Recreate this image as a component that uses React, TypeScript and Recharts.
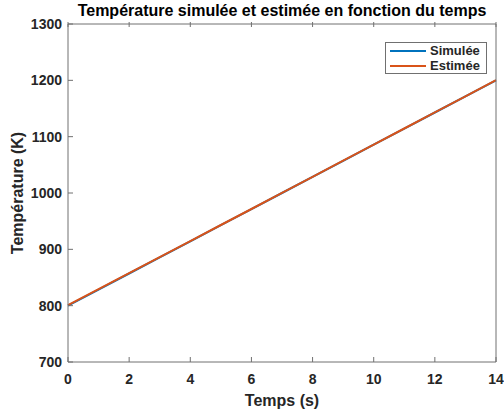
import { LineChart, Line, XAxis, YAxis } from 'recharts';

const temps = [0, 1, 2, 3, 4, 5, 6, 7, 8, 9, 10, 11, 12, 13, 14];
const simulee = [800, 828.6, 857.1, 885.7, 914.3, 942.9, 971.4, 1000, 1028.6, 1057.1, 1085.7, 1114.3, 1142.9, 1171.4, 1200];
const estimee = [801, 829.2, 857.6, 886.1, 914.5, 943.2, 971.6, 1000.3, 1028.8, 1057.4, 1085.9, 1114.5, 1143.1, 1171.6, 1200.2];
const xTicks = [0, 2, 4, 6, 8, 10, 12, 14];
const yTicks = [700, 800, 900, 1000, 1100, 1200, 1300];
const seriesNames = ['Simulée', 'Estimée'];
const seriesColors = ['#0072BD', '#D95319'];

const data = temps.map((t, i) => ({ t, simulee: simulee[i], estimee: estimee[i] }));

const AXIS = '#707070';
const TEXT = '#262626';
const FONT = '"Liberation Sans", Arial, sans-serif';

const BottomTick = ({ x, y, payload }: any) => (
  <g>
    <line x1={x} x2={x} y1={y - 10} y2={y - 15} stroke={AXIS} />
    <text x={x} y={y + 12} textAnchor="middle" fill={TEXT} fontSize={14} fontWeight="bold" fontFamily={FONT}>
      {payload.value}
    </text>
  </g>
);

const LeftTick = ({ x, y, payload }: any) => (
  <g>
    <line x1={x + 6} x2={x + 11} y1={y} y2={y} stroke={AXIS} />
    <text x={x} y={y + 5} textAnchor="end" fill={TEXT} fontSize={14} fontWeight="bold" fontFamily={FONT}>
      {payload.value}
    </text>
  </g>
);

const TopTick = ({ x, y }: any) => <line x1={x} x2={x} y1={y} y2={y + 5} stroke={AXIS} />;
const RightTick = ({ x, y }: any) => <line x1={x} x2={x - 5} y1={y} y2={y} stroke={AXIS} />;

const LegendBox = () => (
  <div
    style={{
      position: 'absolute',
      left: 385,
      top: 42,
      zIndex: 2,
      border: `1px solid ${AXIS}`,
      background: '#fff',
      padding: '0px 4px',
      fontFamily: FONT,
      fontWeight: 'bold',
      fontSize: 13,
      color: TEXT,
      lineHeight: '16px',
      width: 92,
      height: 30,
    }}
  >
    {seriesNames.map((name, i) => (
      <div key={name} style={{ display: 'flex', alignItems: 'center', height: 15 }}>
        <span style={{ display: 'inline-block', width: 36, height: 2, background: seriesColors[i], marginRight: 4 }} />
        {name}
      </div>
    ))}
  </div>
);

export default function App() {
  return (
    <div style={{ position: 'absolute', left: 0, top: 0, width: 504, height: 412, background: '#fff' }}>
      <div
        style={{
          position: 'absolute',
          left: 282,
          top: 2,
          transform: 'translateX(-50%)',
          whiteSpace: 'nowrap',
          fontFamily: FONT,
          fontWeight: 'bold',
          fontSize: 16,
          color: '#000',
          zIndex: 2,
        }}
      >
        Température simulée et estimée en fonction du temps
      </div>
      <LegendBox />
      <LineChart width={504} height={412} data={data} margin={{ top: 0, right: 0, bottom: 0, left: 0 }}>
        <XAxis
          dataKey="t"
          type="number"
          domain={[0, 14]}
          ticks={xTicks}
          height={50}
          tickSize={0}
          tickMargin={10}
          tickLine={false}
          stroke={AXIS}
          tick={<BottomTick />}
          label={{ value: 'Temps (s)', position: 'insideBottom', offset: 6, fill: TEXT, fontSize: 16, fontWeight: 'bold', fontFamily: FONT }}
        />
        <XAxis
          xAxisId="top"
          dataKey="t"
          type="number"
          orientation="top"
          domain={[0, 14]}
          ticks={xTicks}
          height={24}
          tickSize={0}
          tickLine={false}
          stroke={AXIS}
          tick={<TopTick />}
        />
        <YAxis
          type="number"
          domain={[700, 1300]}
          ticks={yTicks}
          width={68}
          tickSize={0}
          tickMargin={6}
          tickLine={false}
          stroke={AXIS}
          tick={<LeftTick />}
          label={{ value: 'Température (K)', angle: -90, position: 'insideLeft', offset: 17, fill: TEXT, fontSize: 16, fontWeight: 'bold', fontFamily: FONT, style: { textAnchor: 'middle' } }}
        />
        <YAxis
          yAxisId="right"
          orientation="right"
          type="number"
          domain={[700, 1300]}
          ticks={yTicks}
          width={8}
          tickSize={0}
          tickLine={false}
          stroke={AXIS}
          tick={<RightTick />}
        />
        <Line dataKey="simulee" name={seriesNames[0]} stroke={seriesColors[0]} strokeWidth={2} dot={false} isAnimationActive={false} />
        <Line dataKey="estimee" name={seriesNames[1]} stroke={seriesColors[1]} strokeWidth={2} dot={false} isAnimationActive={false} />
      </LineChart>
    </div>
  );
}
